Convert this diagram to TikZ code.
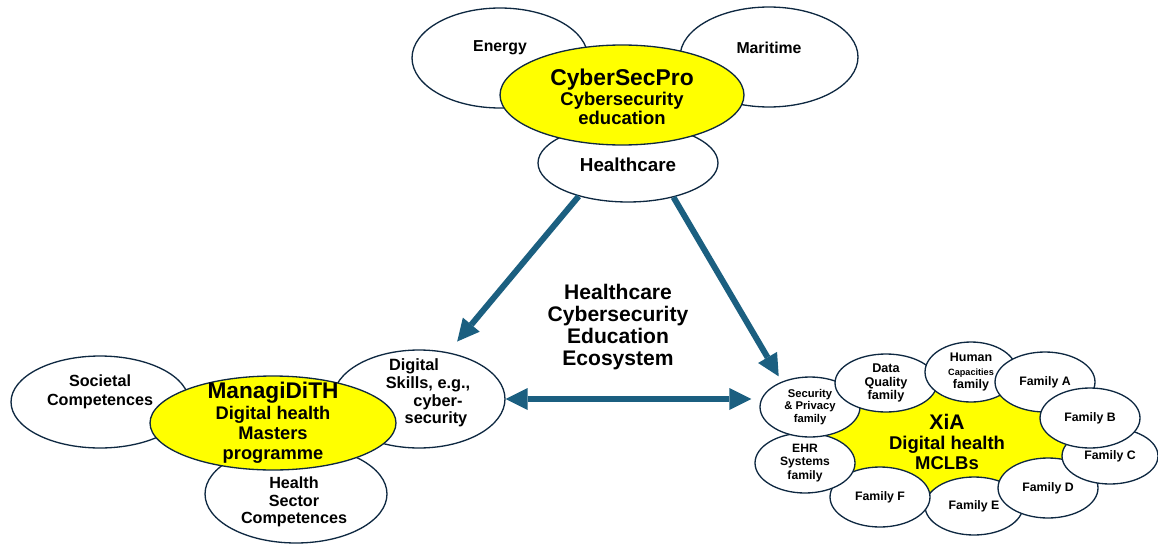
\documentclass[tikz,border=0pt]{standalone}
\usepackage{fontspec}
\setsansfont{Liberation Sans}
\usepackage{tikz}
\usetikzlibrary{shapes.geometric}
\usetikzlibrary{arrows.meta}
\definecolor{outline}{HTML}{0E2841}
\definecolor{flowblue}{HTML}{1B5F80}
\definecolor{hiyellow}{HTML}{FFFF00}
\tikzstyle{every node}=[font=\sffamily\bfseries,text=black]
\tikzstyle{every path}=[line join=round]
\newcommand{\fs}[2]{\fontsize{#1}{#2}\selectfont}

\begin{document}
\begin{tikzpicture}[x=0.02cm,y=-0.02cm]
	\tikzstyle{bubble} = [ellipse,draw=outline,line width=0.75pt,fill=white,inner sep=0pt]
	\tikzstyle{core} = [bubble,fill=hiyellow]
	\tikzstyle{small} = [bubble,minimum width=2cm,minimum height=1.2cm,align=center]
	\tikzstyle{flow} = [draw=flowblue,line width=3.4pt,line cap=butt,
		>={Triangle[length=4.4mm,width=4.4mm,line width=0pt]}]
	
	\useasboundingbox (0,0) rectangle (1158,544);
	
	% CyberSecPro and its sectors
	\node[bubble,minimum width=3.52cm,minimum height=2cm] (energy) at (500,58) {};
	\node[bubble,minimum width=3.56cm,minimum height=2cm] (maritime) at (769,57) {};
	\node[bubble,minimum width=3.6cm,minimum height=1.56cm] (hc) at (628,163) {};
	\node[core,minimum width=4.88cm,minimum height=2cm] (csp) at (622,95) {};
	
	% ManagiDiTH and its competences
	\node[bubble,minimum width=3.56cm,minimum height=1.84cm] (soc) at (100,402) {};
	\node[bubble,minimum width=3.44cm,minimum height=1.96cm] (dig) at (419,399) {};
	\node[bubble,minimum width=3.64cm,minimum height=1.96cm] (hsc) at (296,494) {};
	\node[core,minimum width=4.92cm,minimum height=1.88cm] (mdt) at (273,423) {};
	
	% XiA with the families round it
	\node[core,minimum width=4.88cm,minimum height=2.16cm] (xia) at (948,442) {};
	\node[small,minimum width=1.96cm,minimum height=1.16cm,font=\sffamily\bfseries\fs{7}{8}] (famE) at (974,506) {Family E};
	\node[small,font=\sffamily\bfseries\fs{7}{8}] (famF) at (880,497) {Family F};
	\node[small,font=\sffamily\bfseries\fs{6.9}{7.7}] (ehr) at (805,463) {EHR\\Systems\\family};
	\node[small,font=\sffamily\bfseries\fs{6.4}{6.9}] (sec) at (810,407) {Security\\\& Privacy\\family};
	\node[small,minimum width=2.04cm,minimum height=1.16cm,font=\sffamily\bfseries\fs{7.2}{7.7}] (dq) at (886,383) {Data\\Quality\\family};
	\node[small,minimum width=1.84cm,font=\sffamily\bfseries\fs{7.1}{7.7}] (hum) at (971,372) {Human\\{\fs{5.2}{7}Capacities}\\family};
	\node[small,font=\sffamily\bfseries\fs{7}{8}] (famA) at (1045,382) {Family A};
	\node[small,font=\sffamily\bfseries\fs{7}{8}] (famD) at (1048,488) {Family D};
	\node[small,minimum width=1.92cm,minimum height=1.12cm,font=\sffamily\bfseries\fs{7}{8}] (famC) at (1110,456) {Family C};
	\node[small,font=\sffamily\bfseries\fs{7}{8}] (famB) at (1090,418) {Family B};
	
	% arrows
	\draw[flow,->,shorten >=0.28cm] (hc.-146) -- (dig.58);
	\draw[flow,->,shorten >=0.12cm] (hc.-37) -- (sec.138);
	\draw[flow,<->,shorten >=0.16cm] (dig.east) -- (dig.east -| sec.west);
	
	% labels
	\node[font=\sffamily\bfseries\fs{9}{10}] (energy-t) at (500,48) {Energy};
	\node[font=\sffamily\bfseries\fs{9}{10}] (maritime-t) at (769,48) {Maritime};
	\node[font=\sffamily\bfseries\fs{10.7}{12}] (hc-t) at (628,165) {Healthcare};
	\node[align=center,font=\sffamily\bfseries\fs{10.5}{11}] (csp-t) at (622,97) {{\fs{13}{12}CyberSecPro}\\Cybersecurity\\education};
	
	\node[align=center,font=\sffamily\bfseries\fs{9.2}{10.8}] (soc-t) at (100,392) {Societal\\Competences};
	\node[align=center,font=\sffamily\bfseries\fs{9.3}{10}] (dig-t) at (428,393) {Digital\hspace*{0.56cm}\\Skills, e.g.,\hspace*{0.16cm}\\\hspace*{0.4cm}cyber-\\\hspace*{0.32cm}security};
	\node[align=center,font=\sffamily\bfseries\fs{9.2}{10}] (hsc-t) at (294,502) {Health\\Sector\\Competences};
	\node[align=center,font=\sffamily\bfseries\fs{10.4}{11.5}] (mdt-t) at (273,423) {{\fs{12.9}{12}ManagiDiTH}\\Digital health\\Masters\\programme};
	
	\node[align=center,font=\sffamily\bfseries\fs{10.5}{11.3}] (xia-t) at (947,442) {{\fs{12}{12}XiA}\\Digital health\\MCLBs};
	
	\node[align=center,font=\sffamily\bfseries\fs{12}{12.5}] (eco) at (618,327) {Healthcare\\Cybersecurity\\Education\\Ecosystem};
	
\end{tikzpicture}
\end{document}
